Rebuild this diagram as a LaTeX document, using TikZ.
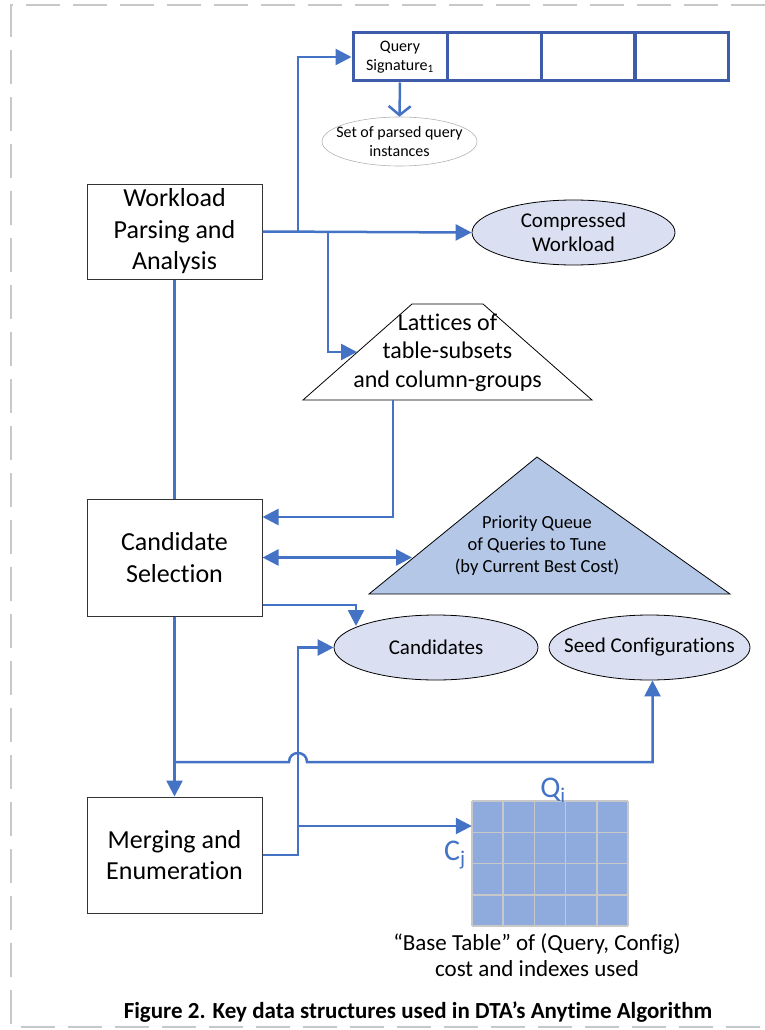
\documentclass[tikz,border=0pt]{standalone}
\usepackage{fontspec}
\setmainfont{Carlito}[Ligatures=NoCommon]
\usetikzlibrary{arrows.meta,shapes.geometric,calc}
\definecolor{connblue}{RGB}{68,114,196}
\definecolor{arrayblue}{RGB}{62,92,168}
\definecolor{ellfill}{RGB}{218,224,242}
\definecolor{pqfill}{RGB}{180,199,231}
\definecolor{gridfill}{RGB}{143,170,220}
\definecolor{gridline}{RGB}{200,200,200}
\definecolor{framegray}{RGB}{200,200,200}
\tikzset{
  proc/.style={draw=black!80, line width=1pt, minimum width=175pt, align=center, inner sep=0pt, font=\fontsize{26}{31.5}\selectfont},
  ell/.style={ellipse, draw=black, line width=0.8pt, fill=ellfill, inner sep=0pt},
  elltext/.style={label={[align=center, inner sep=0pt, font=\fontsize{21}{24}\selectfont]center:#1}},
  cell/.style={draw=arrayblue, line width=3pt, minimum width=94pt, minimum height=48pt, inner sep=0pt, align=center, font=\fontsize{16}{19}\selectfont},
  conn/.style={draw=connblue, line width=2.5pt},
  arr/.style={conn, -{Triangle[length=16pt,width=16pt]}},
  darr/.style={conn, {Triangle[length=16pt,width=16pt]}-{Triangle[length=16pt,width=16pt]}},
  shapeline/.style={draw=black, line width=0.8pt},
  lbl/.style={align=center, inner sep=0pt}
}
\begin{document}
\begin{tikzpicture}[x=1pt,y=-1pt]
\useasboundingbox (0,0) rectangle (765,1030);
% dashed frame
\draw[framegray, line width=2pt, dash pattern=on 34pt off 13pt] (765,5) -- (11,5) -- (11,1027) -- (765,1027);

% process boxes
\node[proc, minimum height=95pt] (wl) at (174.5,231.5) {Workload\\Parsing and\\Analysis};
\node[proc, minimum height=117pt] (cs) at (174.5,557.5) {Candidate\\Selection};
\node[proc, minimum height=116pt] (me) at (174.5,855) {Merging and\\Enumeration};

% query signature array
\node[cell] (q1) at (400,57) {Query\\Signature\textsubscript{1}};
\node[cell] (q2) at (494,57) {};
\node[cell] (q3) at (588,57) {};
\node[cell] (q4) at (681.5,57) {};

% set of parsed query instances
\node[ellipse, draw=black!30, line width=0.6pt, minimum width=155pt, minimum height=49pt, inner sep=0pt,
      label={[align=center, inner sep=0pt, font=\fontsize{16}{19.5}\selectfont]center:Set of parsed query\\instances}] (set) at (399.5,141.5) {};
\draw[conn, -{Straight Barb[length=9pt,width=22pt]}] (q1.south) -- (set.north);

% compressed workload
\node[ell, minimum width=203pt, minimum height=65pt, elltext={Compressed\\Workload}] (cw) at (573.5,232.5) {};

% lattices trapezoid
\draw[shapeline, fill=white] (412,304) -- (483,304) -- (592,400) -- (303,400) -- cycle;
\node[lbl, font=\fontsize{24}{28.5}\selectfont] (lat) at (447.5,352.5) {Lattices of\\table-subsets\\and column-groups};
\coordinate (latin) at (357,352);
\coordinate (latout) at (393,400);

% priority queue triangle
\draw[shapeline, fill=pqfill] (537,457) -- (730,594) -- (369,594) -- cycle;
\node[lbl, font=\fontsize{18.5}{22}\selectfont] (pq) at (537,546) {Priority Queue\\of Queries to Tune\\(by Current Best Cost)};
\coordinate (pqin) at (412,557.5);

% candidates and seed configurations
\node[ell, minimum width=204pt, minimum height=65pt, elltext={Candidates}] (cand) at (436,647.5) {};
\node[ell, minimum width=201pt, minimum height=65pt, elltext={Seed Configurations}] (sc) at (649.5,647.5) {};

% base table grid
\node[fill=gridfill, minimum width=156pt, minimum height=125pt, inner sep=0pt] (grid) at (550,863.5) {};
\foreach \k in {0,...,5} \draw[gridline, line width=1.5pt] (472+31.2*\k,801) -- (472+31.2*\k,926);
\foreach \k in {0,...,4} \draw[gridline, line width=1.5pt] (472,801+31.25*\k) -- (628,801+31.25*\k);
\node[lbl, text=connblue, font=\fontsize{30}{32}\selectfont, anchor=base] (qi) at (553,797) {Q\textsubscript{i}};
\node[lbl, text=connblue, font=\fontsize{30}{32}\selectfont, anchor=base] (cj) at (455,860) {C\textsubscript{j}};
\node[lbl, font=\fontsize{23}{26}\selectfont] (bt) at (537,955) {“Base Table” of (Query, Config)\\cost and indexes used};

% caption
\node[lbl, font=\bfseries\fontsize{23}{26}\selectfont] (cap) at (418,1012) {Figure 2. Key data structures used in DTA’s Anytime Algorithm};

% connectors
\draw[arr] (wl.east) -- (cw.west);
\draw[arr] (wl.east -| 298,0) |- (q1.west);
\draw[arr] (wl.east -| 328,0) |- (latin);
\draw[conn] (wl.south) -- (cs.north);
\draw[arr] (latout) |- ($(cs.east)+(0,-40.5)$);
\draw[darr] (cs.east) -- (pqin);
\draw[arr] ($(cs.east)+(0,47.5)$) -| (356,626);
\draw[arr] (cs.south) -- (me.north);
\draw[arr] (175,762) -- (289,762) .. controls (289,750) and (307,750) .. (307,762) -| ($(sc.south)+(3,0)$);
\draw[arr] (me.east) -| (298,647.5) -- (cand.west);
\draw[arr] (298,826) -- (grid.west |- 0,826);
\end{tikzpicture}
\end{document}
